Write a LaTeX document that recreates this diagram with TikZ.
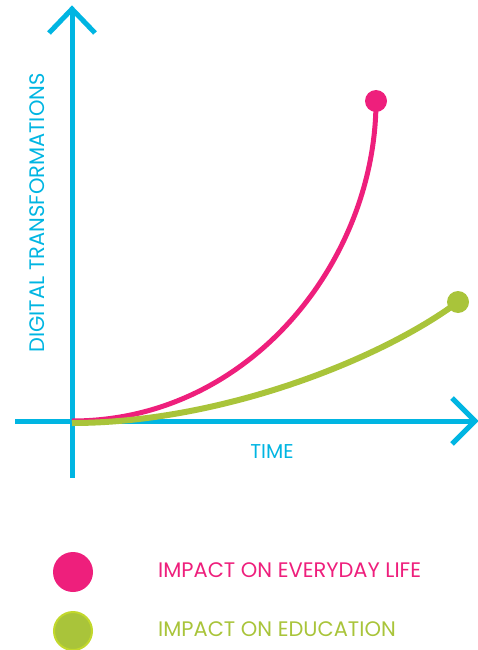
\documentclass[tikz,border=0pt]{standalone}
\usepackage{fontspec}
\setmainfont{Poppins}
\definecolor{axisblue}{HTML}{00B5E2}
\definecolor{lifepink}{HTML}{EE1F7C}
\definecolor{edugreen}{HTML}{A9C43A}
\definecolor{edurim}{HTML}{C2D82C}
\tikzset{
  axisline/.style={axisblue, line width=5pt, line join=miter},
  axislabel/.style={text=axisblue, inner sep=0pt},
  legendlabel/.style={font=\fontsize{21}{24}\selectfont, inner sep=0pt, anchor=west}
}
\begin{document}
\begin{tikzpicture}[x=1pt, y=-1pt]
  \useasboundingbox (0,0) rectangle (477,650);
  % axes
  \coordinate (origin) at (72,421);
  \coordinate (ybottom) at (72,478);
  \coordinate (ytop) at (72,9);
  \coordinate (xleft) at (15,421);
  \coordinate (xright) at (475,421);
  \draw[axisline] (ybottom) -- (ytop);
  \draw[axisline] (xleft) -- (xright);
  \draw[axisline] (49,33) -- (ytop) -- (95,33);
  \draw[axisline] (452,398) -- (xright) -- (452,444);
  \node[axislabel, font=\fontsize{20}{22}\selectfont] (timelbl) at (272,452) {TIME};
  \node[axislabel, font=\fontsize{21}{22}\selectfont, rotate=90] (digitlbl) at (37,213) {DIGITAL TRANSFORMATIONS};
  % curves
  \coordinate (lifeend) at (376,101);
  \coordinate (eduend) at (458,302);
  \draw[lifepink, line width=5pt] (origin) .. controls (250,421) and (376,260) .. (lifeend);
  \fill[lifepink] (lifeend) circle (11);
  \draw[edugreen, line width=6pt] (72,423) .. controls (220,423) and (380,360) .. (eduend);
  \fill[edugreen] (eduend) circle (11);
  % legend
  \fill[lifepink] (73,572) circle (20);
  \filldraw[fill=edugreen, draw=edurim, line width=2pt] (73,631) circle (19);
  \node[legendlabel, text=lifepink] (lifelbl) at (158,570) {IMPACT ON EVERYDAY LIFE};
  \node[legendlabel, text=edugreen] (edulbl) at (158,629) {IMPACT ON EDUCATION};
\end{tikzpicture}
\end{document}
